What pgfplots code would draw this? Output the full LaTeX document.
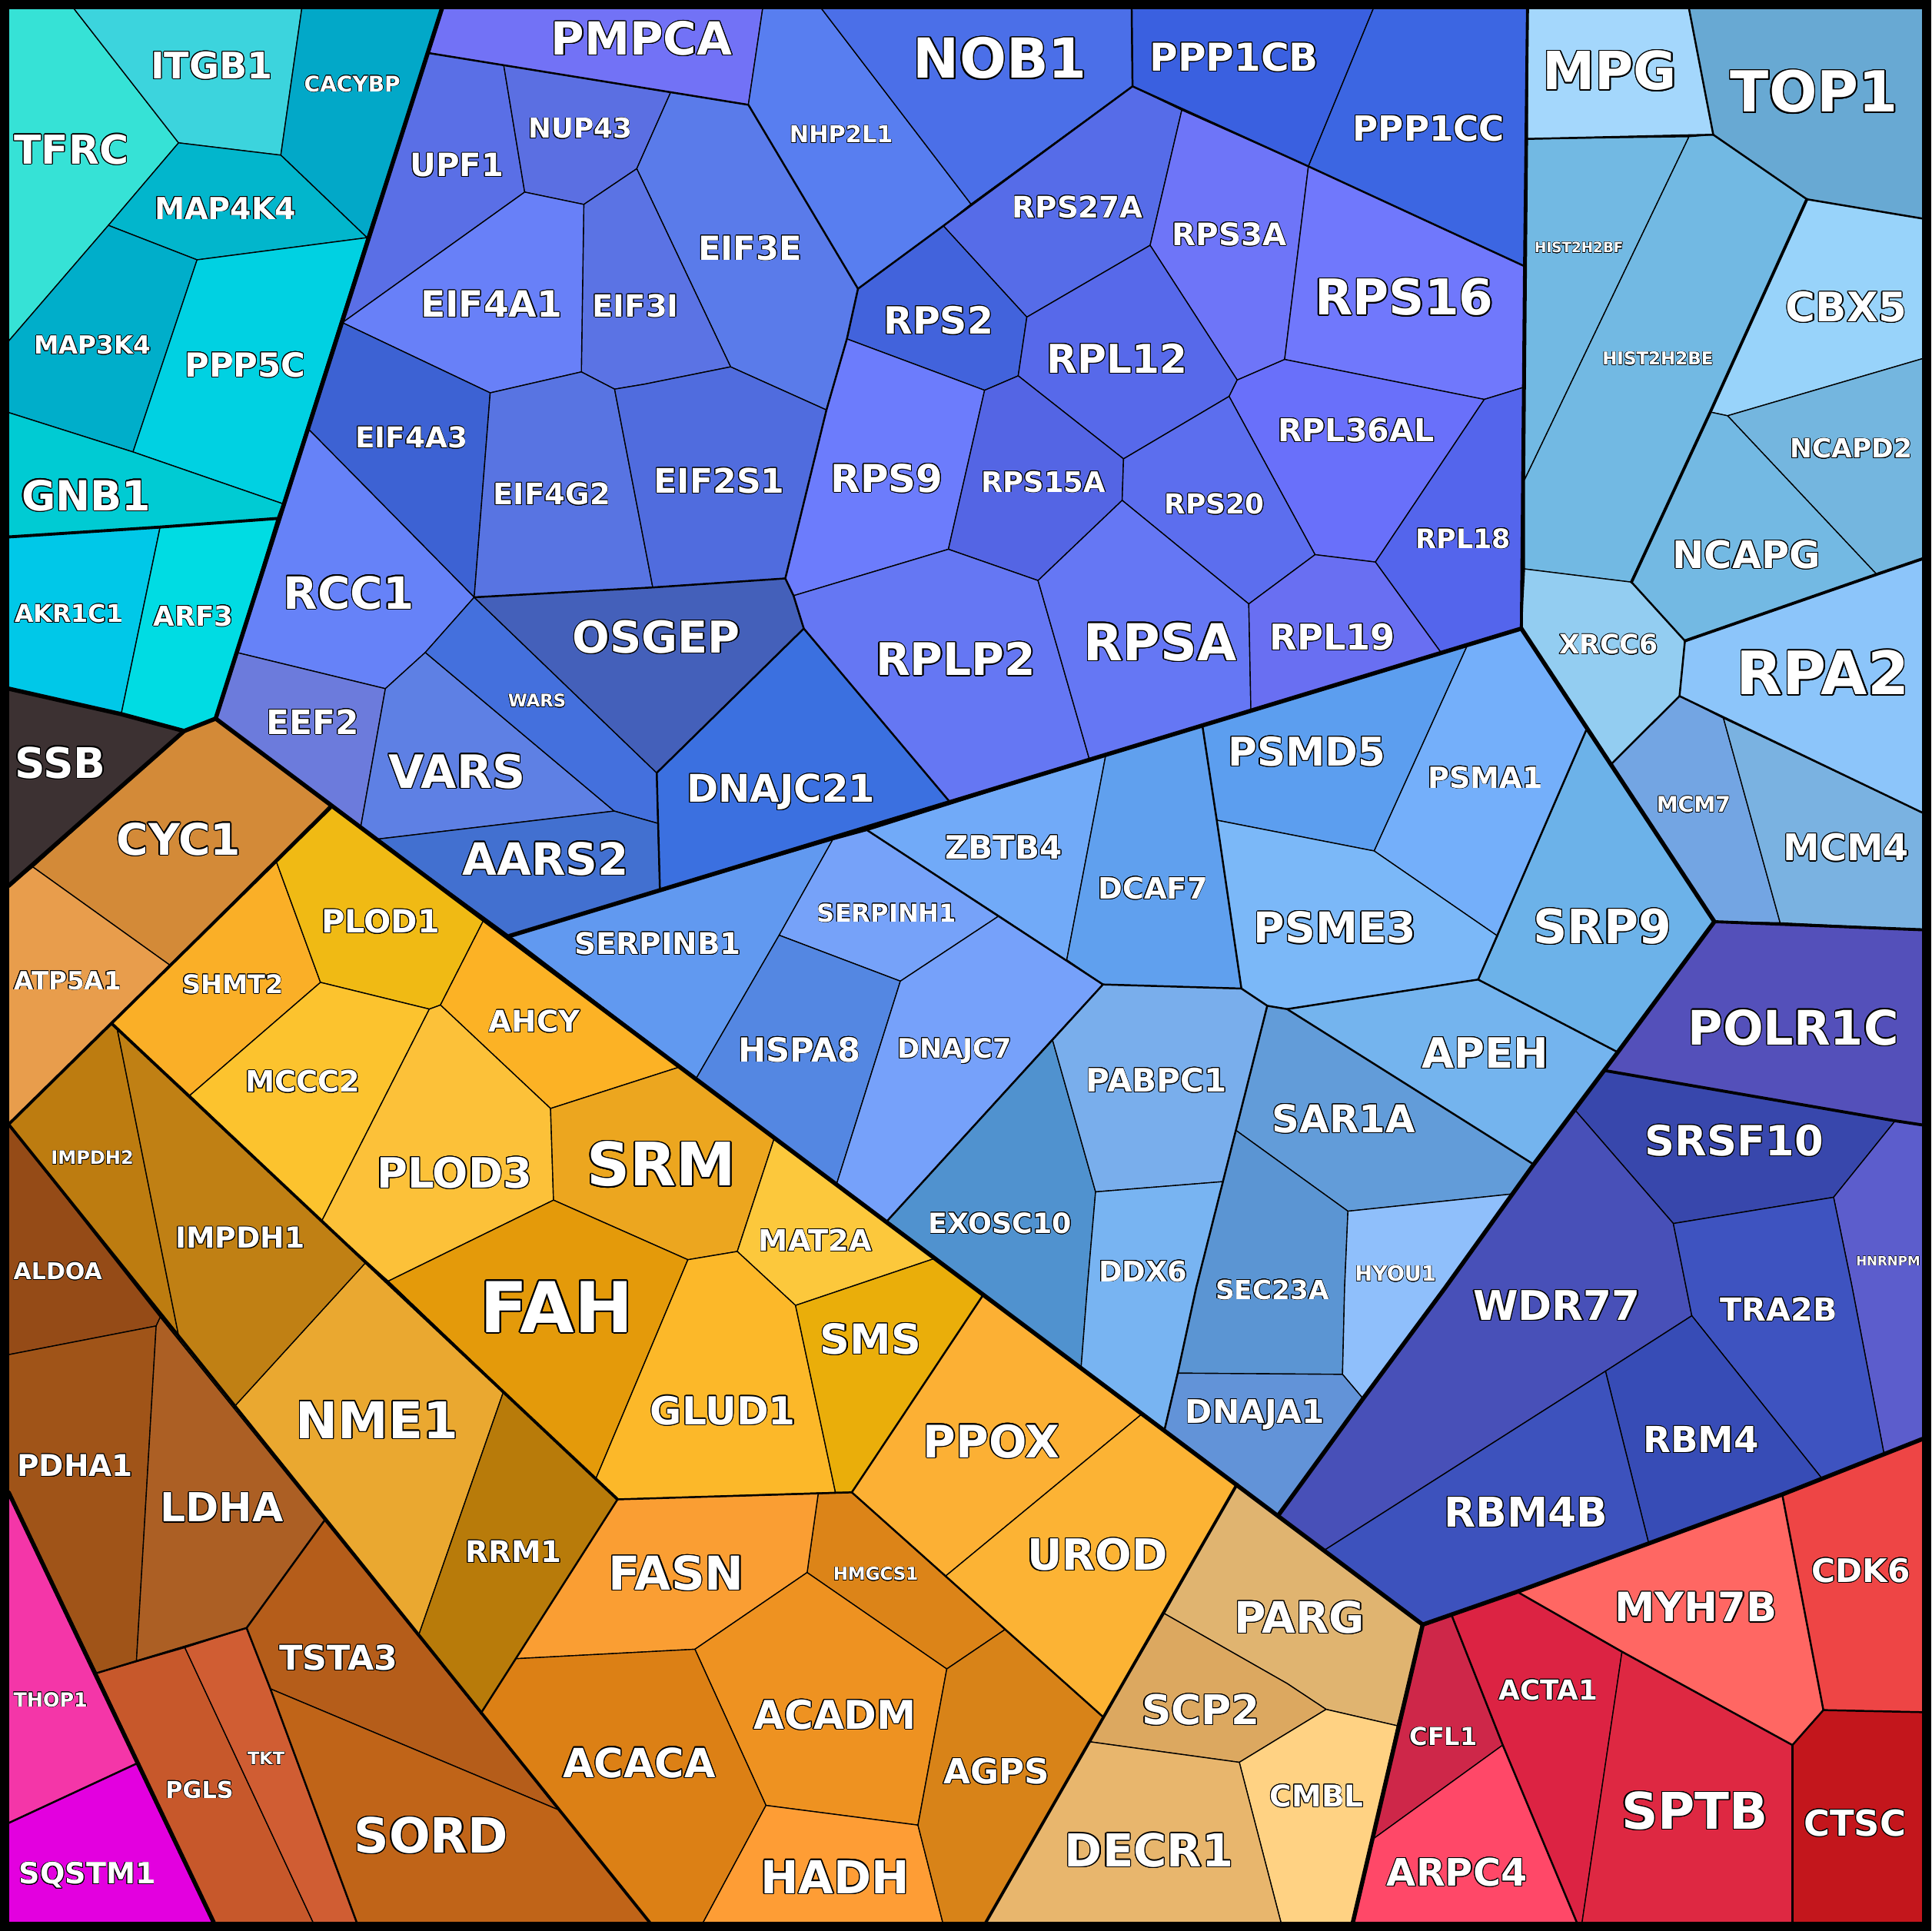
\documentclass[border=0pt]{standalone}
\usepackage{pgfplots}
\pgfplotsset{compat=1.18}
\usepackage{graphicx}
\usepackage{fontspec}
\setmainfont{DejaVu Sans}
\usepackage{contour}
\contourlength{0.22pt}
\newlength\ux \setlength\ux{0.0102041cm}
\newcommand\lbl[4]{\node[text depth=0pt,inner sep=0pt,text=white] at (axis cs:#1,#2) {\resizebox{#3\ux}{!}{\contour{black}{\bfseries #4}}};}
% colours
\definecolor{cTFRC}{HTML}{36E2D6}\definecolor{cITGB1}{HTML}{3CD4DD}\definecolor{cCACYBP}{HTML}{02A8C8}
\definecolor{cMAP4K4}{HTML}{02B6CC}\definecolor{cMAP3K4}{HTML}{00AECA}\definecolor{cPPP5C}{HTML}{00D1E2}
\definecolor{cGNB1}{HTML}{00CBD3}\definecolor{cAKR1C1}{HTML}{00C8E8}\definecolor{cARF3}{HTML}{00DCE3}
\definecolor{cSSB}{HTML}{3C3132}
\definecolor{cPMPCA}{HTML}{7272F6}\definecolor{cUPF1}{HTML}{5A6FE6}\definecolor{cNUP43}{HTML}{5B6FE2}
\definecolor{cEIF3E}{HTML}{5A7BEA}\definecolor{cEIF3I}{HTML}{5B73E4}\definecolor{cEIF4A1}{HTML}{6880F8}
\definecolor{cEIF4A3}{HTML}{3D62D3}\definecolor{cEIF4G2}{HTML}{5874E2}\definecolor{cEIF2S1}{HTML}{506CDE}
\definecolor{cRCC1}{HTML}{6682F8}\definecolor{cEEF2}{HTML}{6C7BDC}\definecolor{cVARS}{HTML}{5E80E4}
\definecolor{cWARS}{HTML}{4470DD}\definecolor{cAARS2}{HTML}{4270D0}\definecolor{cOSGEP}{HTML}{4460BA}
\definecolor{cDNAJC21}{HTML}{3B70E0}\definecolor{cNHP2L1}{HTML}{587EF0}\definecolor{cNOB1}{HTML}{4B6FE8}
\definecolor{cPPP1CB}{HTML}{3A60E0}\definecolor{cPPP1CC}{HTML}{3C66E2}\definecolor{cRPS27A}{HTML}{566CE8}
\definecolor{cRPS3A}{HTML}{6E75F8}\definecolor{cRPS16}{HTML}{7078FC}\definecolor{cRPS2}{HTML}{4263DC}
\definecolor{cRPL12}{HTML}{5769EA}\definecolor{cRPL36AL}{HTML}{6970FA}\definecolor{cRPS9}{HTML}{6C7CFC}
\definecolor{cRPS15A}{HTML}{5465E4}\definecolor{cRPS20}{HTML}{5C6EEE}\definecolor{cRPL18}{HTML}{5465EC}
\definecolor{cRPLP2}{HTML}{6577F3}\definecolor{cRPSA}{HTML}{6577F4}\definecolor{cRPL19}{HTML}{696FF2}
\definecolor{cSERPINB1}{HTML}{6199F0}\definecolor{cSERPINH1}{HTML}{76A2F9}\definecolor{cHSPA8}{HTML}{5487E2}
\definecolor{cDNAJC7}{HTML}{76A1FA}\definecolor{cZBTB4}{HTML}{71AAF8}\definecolor{cDCAF7}{HTML}{60A0EE}
\definecolor{cPSMD5}{HTML}{5C9EEF}\definecolor{cPSMA1}{HTML}{74AFFA}\definecolor{cPSME3}{HTML}{7BB8F8}
\definecolor{cSRP9}{HTML}{6CB2E9}\definecolor{cAPEH}{HTML}{74B4EE}\definecolor{cSAR1A}{HTML}{629CD9}
\definecolor{cEXOSC10}{HTML}{5092CF}\definecolor{cPABPC1}{HTML}{79AEEC}\definecolor{cDDX6}{HTML}{78B4F2}
\definecolor{cSEC23A}{HTML}{5B95D3}\definecolor{cHYOU1}{HTML}{8FBFFB}\definecolor{cDNAJA1}{HTML}{6293D8}
\definecolor{cMPG}{HTML}{A4D7FC}\definecolor{cTOP1}{HTML}{68A9D3}\definecolor{cHISTF}{HTML}{72B9E3}
\definecolor{cHISTE}{HTML}{72B9E3}\definecolor{cCBX5}{HTML}{98D3FA}\definecolor{cNCAPD2}{HTML}{74B6DF}
\definecolor{cNCAPG}{HTML}{73B9E3}\definecolor{cXRCC6}{HTML}{93CDF1}\definecolor{cRPA2}{HTML}{8CC5FA}
\definecolor{cMCM7}{HTML}{73A5E3}\definecolor{cMCM4}{HTML}{7AB2E1}
\definecolor{cPOLR1C}{HTML}{5450BA}\definecolor{cSRSF10}{HTML}{3847AC}\definecolor{cHNRNPM}{HTML}{5C5DCC}
\definecolor{cWDR77}{HTML}{4850B8}\definecolor{cTRA2B}{HTML}{3E53C0}\definecolor{cRBM4}{HTML}{374CB6}
\definecolor{cRBM4B}{HTML}{3D52BD}
\definecolor{cMYH7B}{HTML}{FF6763}\definecolor{cCDK6}{HTML}{EE4545}\definecolor{cCTSC}{HTML}{C3161C}
\definecolor{cSPTB}{HTML}{DE2842}\definecolor{cACTA1}{HTML}{DC2343}\definecolor{cCFL1}{HTML}{CE2749}
\definecolor{cARPC4}{HTML}{FF4868}
\definecolor{cCYC1}{HTML}{D38A38}\definecolor{cATP5A1}{HTML}{E89D4C}\definecolor{cSHMT2}{HTML}{FAAF27}
\definecolor{cPLOD1}{HTML}{F0BA14}\definecolor{cAHCY}{HTML}{FCB225}\definecolor{cMCCC2}{HTML}{FCC32E}
\definecolor{cPLOD3}{HTML}{FCC139}\definecolor{cSRM}{HTML}{ECA61F}\definecolor{cMAT2A}{HTML}{FCC83C}
\definecolor{cFAH}{HTML}{E49A0A}\definecolor{cGLUD1}{HTML}{FCB829}\definecolor{cSMS}{HTML}{EAAE0A}
\definecolor{cPPOX}{HTML}{FCB034}\definecolor{cUROD}{HTML}{FCB334}\definecolor{cFASN}{HTML}{FA9E33}
\definecolor{cHMGCS1}{HTML}{DC8418}\definecolor{cACADM}{HTML}{EE9221}\definecolor{cACACA}{HTML}{DC8015}
\definecolor{cHADH}{HTML}{FE9D35}\definecolor{cAGPS}{HTML}{D88318}\definecolor{cNME1}{HTML}{EAA830}
\definecolor{cRRM1}{HTML}{B87B0A}\definecolor{cIMPDH2}{HTML}{BD7C10}\definecolor{cIMPDH1}{HTML}{C08014}
\definecolor{cALDOA}{HTML}{954B17}\definecolor{cPDHA1}{HTML}{A05418}\definecolor{cLDHA}{HTML}{AC5F24}
\definecolor{cTSTA3}{HTML}{B55D1A}\definecolor{cPGLS}{HTML}{C7582B}\definecolor{cTKT}{HTML}{D05D33}
\definecolor{cSORD}{HTML}{C06418}\definecolor{cTHOP1}{HTML}{F436A8}\definecolor{cSQSTM1}{HTML}{E300DF}
\definecolor{cPARG}{HTML}{E0B470}\definecolor{cSCP2}{HTML}{DCA860}\definecolor{cDECR1}{HTML}{E8B66D}
\definecolor{cCMBL}{HTML}{FFD283}
\begin{document}
\begin{tikzpicture}
\begin{axis}[width=16cm,height=16cm,scale only axis,xmin=0,xmax=1568,ymin=0,ymax=1568,y dir=reverse,hide axis,
  cell/.style={draw=black,line width=0.25pt,line join=round},
  l1/.style={draw=black,line width=1.0pt,line join=round,line cap=round},
  l2/.style={draw=black,line width=0.7pt,line join=round,line cap=round},
  l3/.style={draw=black,line width=0.45pt,line join=round,line cap=round}]
\addplot[fill=black,draw=none] coordinates {(0,0)(1568,0)(1568,1568)(0,1568)} -- cycle;
% teal
\addplot[cell,fill=cTFRC] coordinates {(7,7)(60,7)(145,116)(88,183)(7,277)} -- cycle;
\addplot[cell,fill=cITGB1] coordinates {(60,7)(245,7)(228,126)(145,116)} -- cycle;
\addplot[cell,fill=cCACYBP] coordinates {(245,7)(359,7)(298,193)(228,126)} -- cycle;
\addplot[cell,fill=cMAP4K4] coordinates {(145,116)(228,126)(298,193)(160,211)(88,183)} -- cycle;
\addplot[cell,fill=cMAP3K4] coordinates {(7,277)(88,183)(160,211)(108,367)(7,335)} -- cycle;
\addplot[cell,fill=cPPP5C] coordinates {(160,211)(298,193)(229.5,409)(108,367)} -- cycle;
\addplot[cell,fill=cGNB1] coordinates {(7,335)(108,367)(229.5,409)(225,421)(130,428)(7,436)} -- cycle;
\addplot[cell,fill=cAKR1C1] coordinates {(7,436)(130,428)(98.4,579.9)(7,559.2)} -- cycle;
\addplot[cell,fill=cARF3] coordinates {(130,428)(225,421)(175.1,583.5)(149.5,593.6)(98.4,579.9)} -- cycle;
\addplot[cell,fill=cSSB] coordinates {(7,559.2)(98.4,579.9)(149.5,593.6)(7,719.3)} -- cycle;
% upper blue
\addplot[cell,fill=cPMPCA] coordinates {(359,7)(619.2,7)(607.6,85.1)(544.5,75)(409,53)(347.5,43)} -- cycle;
\addplot[cell,fill=cUPF1] coordinates {(347.5,43)(409,53)(426,156)(278,262)} -- cycle;
\addplot[cell,fill=cNUP43] coordinates {(409,53)(544.5,75)(517,137)(474,166)(426,156)} -- cycle;
\addplot[cell,fill=cEIF3E] coordinates {(544.5,75)(607.6,85.1)(696.6,234.5)(687.6,275.2)(671,332.9)(593.2,297.9)(517,137)} -- cycle;
\addplot[cell,fill=cEIF3I] coordinates {(474,166)(517,137)(593.2,297.9)(523,312)(499,316)(472,302)} -- cycle;
\addplot[cell,fill=cEIF4A1] coordinates {(278,262)(426,156)(474,166)(472,302)(398,319)} -- cycle;
\addplot[cell,fill=cEIF4A3] coordinates {(250,348)(278,262)(398,319)(385,485)} -- cycle;
\addplot[cell,fill=cEIF4G2] coordinates {(398,319)(472,302)(499,316)(530,477)(385,485)} -- cycle;
\addplot[cell,fill=cEIF2S1] coordinates {(499,316)(523,312)(593.2,297.9)(671,332.9)(637.6,469.7)(530,477)} -- cycle;
\addplot[cell,fill=cRCC1] coordinates {(250,348)(385,485)(345.3,529.8)(312.9,559.2)(192,529.8)} -- cycle;
\addplot[cell,fill=cEEF2] coordinates {(192,529.8)(312.9,559.2)(292.9,671.4)(268.5,653.5)(175.1,583.5)} -- cycle;
\addplot[cell,fill=cVARS] coordinates {(312.9,559.2)(345.3,529.8)(498.7,658.6)(306.2,681.4)(292.9,671.4)} -- cycle;
\addplot[cell,fill=cWARS] coordinates {(345.3,529.8)(385,485)(533.2,627.6)(534.2,668.6)(498.7,658.6)} -- cycle;
\addplot[cell,fill=cOSGEP] coordinates {(385,485)(530,477)(637.6,469.7)(644.3,483.7)(652.6,510.4)(533.2,627.6)} -- cycle;
\addplot[cell,fill=cAARS2] coordinates {(306.2,681.4)(498.7,658.6)(534.2,668.6)(535.8,722.7)(413.7,760)} -- cycle;
\addplot[cell,fill=cDNAJC21] coordinates {(533.2,627.6)(652.6,510.4)(771,651)(535.8,722.7)(534.2,668.6)} -- cycle;
\addplot[cell,fill=cNHP2L1] coordinates {(619.2,7)(667,7)(788.4,165.8)(766,183.5)(696.6,234.5)(607.6,85.1)} -- cycle;
\addplot[cell,fill=cNOB1] coordinates {(667,7)(918.8,7)(919.5,70.1)(788.4,165.8)} -- cycle;
\addplot[cell,fill=cPPP1CB] coordinates {(918.8,7)(1115,7)(1062.3,135.1)(919.5,70.1)} -- cycle;
\addplot[cell,fill=cPPP1CC] coordinates {(1115,7)(1240.2,7)(1237.8,216.2)(1062.3,135.1)} -- cycle;
\addplot[cell,fill=cRPS27A] coordinates {(766,183.5)(788.4,165.8)(919.5,70.1)(959.5,89.4)(933.8,199.2)(833.7,257.5)} -- cycle;
\addplot[cell,fill=cRPS3A] coordinates {(959.5,89.4)(1062.3,135.1)(1043,291.9)(1004.5,308.6)(933.8,199.2)} -- cycle;
\addplot[cell,fill=cRPS16] coordinates {(1062.3,135.1)(1237.8,216.2)(1237.8,314.3)(1205.1,324.3)(1043,291.9)} -- cycle;
\addplot[cell,fill=cRPS2] coordinates {(696.6,234.5)(766,183.5)(833.7,257.5)(826.7,305.2)(799.4,316.9)(687.6,275.2)} -- cycle;
\addplot[cell,fill=cRPL12] coordinates {(833.7,257.5)(933.8,199.2)(1004.5,308.6)(997.9,321.9)(912.2,372.6)(826.7,305.2)} -- cycle;
\addplot[cell,fill=cRPL36AL] coordinates {(997.9,321.9)(1004.5,308.6)(1043,291.9)(1205.1,324.3)(1116.7,456.4)(1067.7,450.4)} -- cycle;
\addplot[cell,fill=cRPS9] coordinates {(687.6,275.2)(799.4,316.9)(770,446)(644.3,483.7)(637.6,469.7)(671,332.9)} -- cycle;
\addplot[cell,fill=cRPS15A] coordinates {(799.4,316.9)(826.7,305.2)(912.2,372.6)(911.1,406.3)(842.8,471.4)(770,446)} -- cycle;
\addplot[cell,fill=cRPS20] coordinates {(912.2,372.6)(997.9,321.9)(1067.7,450.4)(1013.9,490.4)(911.1,406.3)} -- cycle;
\addplot[cell,fill=cRPL18] coordinates {(1205.1,324.3)(1237.8,314.3)(1235.2,510.4)(1170.2,530.2)(1116.7,456.4)} -- cycle;
\addplot[cell,fill=cRPLP2] coordinates {(644.3,483.7)(770,446)(842.8,471.4)(884.5,616.6)(771,651)(652.6,510.4)} -- cycle;
\addplot[cell,fill=cRPSA] coordinates {(842.8,471.4)(911.1,406.3)(1013.9,490.4)(1015.6,576.9)(884.5,616.6)} -- cycle;
\addplot[cell,fill=cRPL19] coordinates {(1013.9,490.4)(1067.7,450.4)(1116.7,456.4)(1170.2,530.2)(1015.6,576.9)} -- cycle;
% mid light blue
\addplot[cell,fill=cSERPINB1] coordinates {(413.7,760)(676,682)(632.6,759.4)(565.2,875.7)} -- cycle;
\addplot[cell,fill=cSERPINH1] coordinates {(676,682)(704.3,674.3)(811.1,743.7)(731,796.7)(632.6,759.4)} -- cycle;
\addplot[cell,fill=cHSPA8] coordinates {(632.6,759.4)(731,796.7)(679.3,961.2)(565.2,875.7)} -- cycle;
\addplot[cell,fill=cDNAJC7] coordinates {(731,796.7)(811.1,743.7)(895.5,799.4)(720,991.75)(679.3,961.2)} -- cycle;
\addplot[cell,fill=cZBTB4] coordinates {(704.3,674.3)(897.8,613)(866.1,779.4)(895.5,799.4)(811.1,743.7)} -- cycle;
\addplot[cell,fill=cDCAF7] coordinates {(897.8,613)(976.2,589)(987.9,666)(1007.9,802.7)(895.5,799.4)(866.1,779.4)} -- cycle;
\addplot[cell,fill=cPSMD5] coordinates {(976.2,589)(1191.8,523.1)(1115.7,691)(987.9,666)} -- cycle;
\addplot[cell,fill=cPSMA1] coordinates {(1191.8,523.1)(1235.2,510.4)(1288.5,591.4)(1215.8,760)(1115.7,691)} -- cycle;
\addplot[cell,fill=cSRP9] coordinates {(1288.5,591.4)(1391.9,748.4)(1313.5,854.4)(1200.1,795.4)(1215.8,760)} -- cycle;
\addplot[cell,fill=cPSME3] coordinates {(987.9,666)(1115.7,691)(1215.8,760)(1200.1,795.4)(1045,819.4)(1028.9,816.7)(1007.9,802.7)} -- cycle;
\addplot[cell,fill=cAPEH] coordinates {(1045,819.4)(1200.1,795.4)(1313.5,854.4)(1245.2,945.5)} -- cycle;
\addplot[cell,fill=cSAR1A] coordinates {(1028.9,816.7)(1045,819.4)(1245.2,945.5)(1228,969.5)(1094.4,983.5)(1003.4,917.8)} -- cycle;
\addplot[cell,fill=cEXOSC10] coordinates {(720,991.75)(854.4,843.9)(889.5,967.8)(882.8,1045.6)(877.8,1110)} -- cycle;
\addplot[cell,fill=cPABPC1] coordinates {(895.5,799.4)(1007.9,802.7)(1028.9,816.7)(992.9,959.5)(889.5,967.8)(854.4,843.9)} -- cycle;
\addplot[cell,fill=cDDX6] coordinates {(889.5,967.8)(992.9,959.5)(971.2,1045.6)(956.2,1115)(945.5,1160.9)(877.8,1110)(882.8,1045.6)} -- cycle;
\addplot[cell,fill=cSEC23A] coordinates {(1003.4,917.8)(1094.4,983.5)(1091.7,1045.6)(1090,1116)(956.2,1115)(971.2,1045.6)(992.9,959.5)} -- cycle;
\addplot[cell,fill=cHYOU1] coordinates {(1094.4,983.5)(1228,969.5)(1173.4,1045.6)(1106.7,1135.7)(1090,1116)(1091.7,1045.6)} -- cycle;
\addplot[cell,fill=cDNAJA1] coordinates {(956.2,1115)(1090,1116)(1106.7,1135.7)(1038,1230.25)(945.5,1160.9)} -- cycle;
% right light blue
\addplot[cell,fill=cMPG] coordinates {(1240.2,7)(1371.3,7)(1391,109.4)(1240.2,112.8)} -- cycle;
\addplot[cell,fill=cTOP1] coordinates {(1371.3,7)(1561,7)(1561,177.5)(1467,161.8)(1391,109.4)} -- cycle;
\addplot[cell,fill=cHISTF] coordinates {(1240.2,112.8)(1371.3,111)(1237.8,389.6)} -- cycle;
\addplot[cell,fill=cHISTE] coordinates {(1371.3,111)(1391,109.4)(1467,161.8)(1388.6,334.6)(1324.6,472.7)(1237.8,462)(1237.8,389.6)} -- cycle;
\addplot[cell,fill=cCBX5] coordinates {(1467,161.8)(1561,177.5)(1561,291.2)(1402.6,337.6)(1388.6,334.6)} -- cycle;
\addplot[cell,fill=cNCAPD2] coordinates {(1402.6,337.6)(1561,291.2)(1561,453.7)(1523.7,466.4)} -- cycle;
\addplot[cell,fill=cNCAPG] coordinates {(1388.6,334.6)(1402.6,337.6)(1523.7,466.4)(1368,520.4)(1324.6,472.7)} -- cycle;
\addplot[cell,fill=cXRCC6] coordinates {(1237.8,462)(1324.6,472.7)(1368,520.4)(1363.6,565.2)(1307.9,620.8)(1235.2,510.4)} -- cycle;
\addplot[cell,fill=cRPA2] coordinates {(1368,520.4)(1523.7,466.4)(1561,453.7)(1561,660)(1399.3,583.2)(1363.6,565.2)} -- cycle;
\addplot[cell,fill=cMCM7] coordinates {(1363.6,565.2)(1399.3,583.2)(1445.3,749.3)(1391.9,748.4)(1307.9,620.8)} -- cycle;
\addplot[cell,fill=cMCM4] coordinates {(1399.3,583.2)(1561,660)(1561,755)(1445.3,749.3)} -- cycle;
% dark blue
\addplot[cell,fill=cPOLR1C] coordinates {(1391.9,748.4)(1561,755)(1561,913.5)(1538.7,910.1)(1303.5,869.4)(1313.5,854.4)} -- cycle;
\addplot[cell,fill=cSRSF10] coordinates {(1303.5,869.4)(1538.7,910.1)(1488.7,972.2)(1358.6,993.5)(1278.5,901.1)} -- cycle;
\addplot[cell,fill=cHNRNPM] coordinates {(1538.7,910.1)(1561,913.5)(1561,1168.4)(1529.7,1180.8)(1503.7,1045)(1488.7,972.2)} -- cycle;
\addplot[cell,fill=cWDR77] coordinates {(1278.5,901.1)(1358.6,993.5)(1373.6,1068.4)(1303.5,1113.4)(1075.7,1258.5)(1038,1230.25)(1106.7,1135.7)(1173.4,1045.6)(1245.2,945.5)} -- cycle;
\addplot[cell,fill=cTRA2B] coordinates {(1358.6,993.5)(1488.7,972.2)(1503.7,1045)(1529.7,1180.8)(1479.4,1200.7)(1373.6,1068.4)} -- cycle;
\addplot[cell,fill=cRBM4] coordinates {(1373.6,1068.4)(1479.4,1200.7)(1447,1213.5)(1338.6,1253.3)(1303.5,1113.4)} -- cycle;
\addplot[cell,fill=cRBM4B] coordinates {(1075.7,1258.5)(1303.5,1113.4)(1338.6,1253.3)(1231.8,1292.5)(1155.1,1319.2)} -- cycle;
% red
\addplot[cell,fill=cCFL1] coordinates {(1155.1,1319.2)(1178.4,1311.1)(1220.1,1417)(1114.2,1493.7)} -- cycle;
\addplot[cell,fill=cARPC4] coordinates {(1114.2,1493.7)(1220.1,1417)(1280.2,1561)(1098.4,1561)} -- cycle;
\addplot[cell,fill=cACTA1] coordinates {(1178.4,1311.1)(1231.8,1292.5)(1316.9,1341.2)(1284.5,1561)(1280.2,1561)(1220.1,1417)} -- cycle;
\addplot[cell,fill=cSPTB] coordinates {(1316.9,1341.2)(1455.3,1417)(1455.3,1561)(1284.5,1561)} -- cycle;
\addplot[cell,fill=cMYH7B] coordinates {(1231.8,1292.5)(1447,1213.5)(1480.4,1388.6)(1455.3,1417)(1316.9,1341.2)} -- cycle;
\addplot[cell,fill=cCDK6] coordinates {(1447,1213.5)(1561,1168.4)(1561,1390.3)(1480.4,1388.6)} -- cycle;
\addplot[cell,fill=cCTSC] coordinates {(1480.4,1388.6)(1561,1390.3)(1561,1561)(1455.3,1561)(1455.3,1417)} -- cycle;
% orange / brown
\addplot[cell,fill=cCYC1] coordinates {(149.5,593.6)(175.1,583.5)(268.5,653.5)(137.8,783.6)(26.7,704)} -- cycle;
\addplot[cell,fill=cATP5A1] coordinates {(7,719.3)(26.7,704)(137.8,783.6)(7,913)} -- cycle;
\addplot[cell,fill=cSHMT2] coordinates {(224.2,699.2)(260.2,797.7)(154.1,889.5)(90.7,831.1)} -- cycle;
\addplot[cell,fill=cPLOD1] coordinates {(268.5,653.5)(393,746.5)(357.6,816.1)(348.6,819.4)(260.2,797.7)(224.2,699.2)} -- cycle;
\addplot[cell,fill=cAHCY] coordinates {(393,746.5)(553,866)(447,900.1)(357.6,816.1)} -- cycle;
\addplot[cell,fill=cMCCC2] coordinates {(154.1,889.5)(260.2,797.7)(348.6,819.4)(261.2,991.5)} -- cycle;
\addplot[cell,fill=cPLOD3] coordinates {(261.2,991.5)(348.6,819.4)(357.6,816.1)(447,900.1)(449.4,974.5)(315.2,1040.3)} -- cycle;
\addplot[cell,fill=cSRM] coordinates {(447,900.1)(553,866)(629,923.2)(598.6,1016.2)(558.5,1022.9)(449.4,974.5)} -- cycle;
\addplot[cell,fill=cMAT2A] coordinates {(629,923.2)(760,1021.5)(645.9,1060)(598.6,1016.2)} -- cycle;
\addplot[cell,fill=cFAH] coordinates {(315.2,1040.3)(449.4,974.5)(558.5,1022.9)(483.7,1200.9)} -- cycle;
\addplot[cell,fill=cGLUD1] coordinates {(558.5,1022.9)(598.6,1016.2)(645.9,1060)(678.3,1211.8)(501.4,1217.5)(483.7,1200.9)} -- cycle;
\addplot[cell,fill=cSMS] coordinates {(645.9,1060)(760,1021.5)(798.7,1050.8)(691.6,1211.8)(678.3,1211.8)} -- cycle;
\addplot[cell,fill=cPPOX] coordinates {(798.7,1050.8)(927.8,1147.6)(767.7,1279.8)(691.6,1211.8)} -- cycle;
\addplot[cell,fill=cUROD] coordinates {(927.8,1147.6)(1004.5,1205)(896.1,1394.6)(767.7,1279.8)} -- cycle;
\addplot[cell,fill=cHMGCS1] coordinates {(664.3,1212.8)(691.6,1211.8)(816.1,1323.1)(768.7,1355.2)(655.3,1276.9)} -- cycle;
\addplot[cell,fill=cFASN] coordinates {(501.4,1217.5)(664.3,1212.8)(655.3,1276.9)(564.2,1339.2)(418.2,1346.9)} -- cycle;
\addplot[cell,fill=cACADM] coordinates {(655.3,1276.9)(768.7,1355.2)(745.3,1482)(621.9,1466)(564.2,1339.2)} -- cycle;
\addplot[cell,fill=cACACA] coordinates {(418.2,1346.9)(564.2,1339.2)(621.9,1466)(570.9,1561)(527.5,1561)(390.3,1391.4)} -- cycle;
\addplot[cell,fill=cHADH] coordinates {(621.9,1466)(745.3,1482)(765.4,1561)(570.9,1561)} -- cycle;
\addplot[cell,fill=cAGPS] coordinates {(768.7,1355.2)(816.1,1323.1)(896.1,1394.6)(800.4,1561)(765.4,1561)(745.3,1482)} -- cycle;
\addplot[cell,fill=cNME1] coordinates {(296.9,1025.2)(315.2,1040.3)(408.7,1130.3)(339.6,1328.7)(189.5,1143)} -- cycle;
\addplot[cell,fill=cRRM1] coordinates {(408.7,1130.3)(501.4,1217.5)(390.3,1391.4)(339.6,1328.7)} -- cycle;
\addplot[cell,fill=cIMPDH2] coordinates {(7,913)(90.7,831.1)(95.1,835.2)(145.8,1088.5)} -- cycle;
\addplot[cell,fill=cIMPDH1] coordinates {(95.1,835.2)(296.9,1025.2)(189.5,1143)(145.8,1088.5)} -- cycle;
\addplot[cell,fill=cALDOA] coordinates {(7,913)(130.1,1069.6)(126.8,1076.7)(7,1100)} -- cycle;
\addplot[cell,fill=cPDHA1] coordinates {(7,1100)(126.8,1076.7)(110.8,1348.6)(78.4,1358.6)(7,1211.8)} -- cycle;
\addplot[cell,fill=cLDHA] coordinates {(126.8,1076.7)(130.1,1069.6)(263.5,1234.6)(200.2,1321.9)(110.8,1348.6)} -- cycle;
\addplot[cell,fill=cTHOP1] coordinates {(7,1211.8)(78.4,1358.6)(111,1432)(7,1480.3)} -- cycle;
\addplot[cell,fill=cSQSTM1] coordinates {(7,1480.3)(111,1432)(173.5,1561)(7,1561)} -- cycle;
\addplot[cell,fill=cPGLS] coordinates {(78.4,1358.6)(150.1,1337.9)(254.2,1561)(173.5,1561)} -- cycle;
\addplot[cell,fill=cTKT] coordinates {(150.1,1337.9)(200.2,1321.9)(219.5,1371.3)(289.6,1561)(254.2,1561)} -- cycle;
\addplot[cell,fill=cTSTA3] coordinates {(200.2,1321.9)(263.5,1234.6)(453.7,1469.7)(219.5,1371.3)} -- cycle;
\addplot[cell,fill=cSORD] coordinates {(219.5,1371.3)(453.7,1469.7)(527.5,1561)(289.6,1561)} -- cycle;
\addplot[cell,fill=cPARG] coordinates {(1004.5,1205)(1155.1,1319.2)(1134.4,1401.3)(1076.7,1388)(1045,1367)(945.3,1310.2)} -- cycle;
\addplot[cell,fill=cSCP2] coordinates {(945.3,1310.2)(1045,1367)(1076.7,1388)(1006.2,1431)(884.6,1414.3)} -- cycle;
\addplot[cell,fill=cCMBL] coordinates {(1076.7,1388)(1134.4,1401.3)(1098.4,1561)(1040,1561)(1006.2,1431)} -- cycle;
\addplot[cell,fill=cDECR1] coordinates {(884.6,1414.3)(1006.2,1431)(1040,1561)(800.4,1561)} -- cycle;
% level-3 boundaries
\addplot[l3] coordinates {(347.5,43)(607.6,85.1)(696.6,234.5)(919.5,70.1)(918.8,7)};
\addplot[l3] coordinates {(919.5,70.1)(1062.3,135.1)(1237.8,216.2)};
\addplot[l3] coordinates {(696.6,234.5)(687.6,275.2)(671,332.9)(637.6,469.7)(644.3,483.7)(652.6,510.4)};
\addplot[l3] coordinates {(385,485)(530,477)(637.6,469.7)};
\addplot[l3] coordinates {(771,651)(652.6,510.4)(533.2,627.6)(535.8,722.7)};
\addplot[l3] coordinates {(704.3,674.3)(895.5,799.4)(720,991.75)};
\addplot[l3] coordinates {(895.5,799.4)(1007.9,802.7)(1028.9,816.7)(1045,819.4)(1200.1,795.4)(1288.5,591.4)};
\addplot[l3] coordinates {(976.2,589)(987.9,666)(1007.9,802.7)};
\addplot[l3] coordinates {(1200.1,795.4)(1313.5,854.4)};
\addplot[l3] coordinates {(1045,819.4)(1245.2,945.5)};
\addplot[l3] coordinates {(1028.9,816.7)(992.9,959.5)(971.2,1045.6)(956.2,1115)(945.5,1160.9)};
\addplot[l3] coordinates {(1240.2,112.8)(1391,109.4)(1371.3,7)};
\addplot[l3] coordinates {(1391,109.4)(1467,161.8)(1561,177.5)};
\addplot[l3] coordinates {(1324.6,472.7)(1368,520.4)(1363.6,565.2)(1307.9,620.8)};
\addplot[l3] coordinates {(1363.6,565.2)(1561,660)};
\addplot[l3] coordinates {(1231.8,1292.5)(1316.9,1341.2)(1455.3,1417)(1480.4,1388.6)(1447,1213.5)};
\addplot[l3] coordinates {(1480.4,1388.6)(1561,1390.3)};
\addplot[l3] coordinates {(1455.3,1417)(1455.3,1561)};
\addplot[l3] coordinates {(1178.4,1311.1)(1220.1,1417)(1280.2,1561)};
\addplot[l3] coordinates {(78.4,1358.6)(200.2,1321.9)(263.5,1234.6)};
\addplot[l3] coordinates {(200.2,1321.9)(219.5,1371.3)(289.6,1561)};
\addplot[l3] coordinates {(7,1480.3)(111,1432)};
\addplot[l3] coordinates {(501.4,1217.5)(390.3,1391.4)};
\addplot[l3] coordinates {(501.4,1217.5)(691.6,1211.8)(798.7,1050.8)};
\addplot[l3] coordinates {(691.6,1211.8)(896.1,1394.6)};
% level-2 boundaries
\addplot[l2] coordinates {(268.5,655.9)(7,913)};
\addplot[l2] coordinates {(7,913)(527.5,1561)};
\addplot[l2] coordinates {(1240.2,7)(1237.8,216.2)(1235.2,510.4)};
\addplot[l2] coordinates {(1391.9,748.4)(1561,755)};
\addplot[l2] coordinates {(1004.5,1205)(800.4,1561)};
\addplot[l2] coordinates {(90.7,831.1)(501.4,1217.5)};
\addplot[l2] coordinates {(1303.5,869.4)(1538.7,910.1)(1561,913.5)};
\addplot[l2] coordinates {(1467,161.8)(1388.6,334.6)(1324.6,472.7)};
\addplot[l2] coordinates {(1368,520.4)(1523.7,466.4)(1561,453.7)};
\addplot[l2] coordinates {(7,436)(130,428)(225,421)};
% level-1 boundaries
\addplot[l1] coordinates {(361,0)(175.1,583.5)};
\addplot[l1] coordinates {(7,559.2)(98.4,579.9)(149.5,593.6)(175.1,583.5)};
\addplot[l1] coordinates {(149.5,593.6)(7,719.3)};
\addplot[l1] coordinates {(175.1,583.5)(1155.1,1319.2)};
\addplot[l1] coordinates {(413.7,760)(1235.2,510.4)};
\addplot[l1] coordinates {(1235.2,510.4)(1391.9,748.4)(1313.5,854.4)(1245.2,945.5)(1173.4,1045.6)(1106.7,1135.7)(1038,1230.25)};
\addplot[l1] coordinates {(1098.4,1561)(1155.1,1319.2)(1231.8,1292.5)(1447,1213.5)(1561,1168.4)};
\addplot[l1] coordinates {(7,1211.8)(173.5,1561)};
% frame
\addplot[draw=black,line width=2.1pt] coordinates {(3.5,3.5)(1564.5,3.5)(1564.5,1564.5)(3.5,1564.5)} -- cycle;
% labels
\lbl{58}{121}{93}{TFRC}\lbl{172}{53}{99}{ITGB1}\lbl{286}{68}{78}{CACYBP}
\lbl{183}{169}{115}{MAP4K4}\lbl{75}{280}{95}{MAP3K4}\lbl{199}{296}{98}{PPP5C}
\lbl{70}{402}{105}{GNB1}\lbl{56}{498}{88}{AKR1C1}\lbl{157}{500}{65}{ARF3}\lbl{49}{619}{74}{SSB}
\lbl{521}{31}{147}{PMPCA}\lbl{812}{47}{141}{NOB1}\lbl{1002}{46}{137}{PPP1CB}\lbl{1160}{104}{123}{PPP1CC}
\lbl{371}{134}{76}{UPF1}\lbl{471}{104}{84}{NUP43}\lbl{683}{109}{84}{NHP2L1}\lbl{875}{168}{106}{RPS27A}
\lbl{998}{190}{93}{RPS3A}\lbl{609}{201}{84}{EIF3E}\lbl{1140}{241}{145}{RPS16}\lbl{399}{247}{115}{EIF4A1}
\lbl{516}{248}{70}{EIF3I}\lbl{762}{260}{89}{RPS2}\lbl{907}{291}{114}{RPL12}\lbl{334}{355}{91}{EIF4A3}
\lbl{1101}{349}{127}{RPL36AL}\lbl{448}{401}{95}{EIF4G2}\lbl{584}{390}{106}{EIF2S1}\lbl{720}{388}{91}{RPS9}
\lbl{847}{391}{101}{RPS15A}\lbl{986}{409}{81}{RPS20}\lbl{1188}{437}{77}{RPL18}\lbl{283}{481}{106}{RCC1}
\lbl{533}{517}{136}{OSGEP}\lbl{776}{535}{130}{RPLP2}\lbl{942}{521}{124}{RPSA}\lbl{1082}{517}{102}{RPL19}
\lbl{254}{586}{75}{EEF2}\lbl{436}{569}{47}{WARS}\lbl{371}{626}{111}{VARS}\lbl{634}{640}{153}{DNAJC21}
\lbl{443}{697}{135}{AARS2}
\lbl{1061}{610}{128}{PSMD5}\lbl{1206}{631}{93}{PSMA1}\lbl{815}{688}{95}{ZBTB4}\lbl{936}{721}{89}{DCAF7}
\lbl{720}{741}{113}{SERPINH1}\lbl{534}{766}{135}{SERPINB1}\lbl{1084}{753}{132}{PSME3}\lbl{1301}{752}{112}{SRP9}
\lbl{649}{852}{99}{HSPA8}\lbl{775}{851}{93}{DNAJC7}\lbl{939}{877}{114}{PABPC1}\lbl{1206}{855}{103}{APEH}
\lbl{1091}{908}{116}{SAR1A}\lbl{812}{993}{116}{EXOSC10}\lbl{928}{1032}{72}{DDX6}\lbl{1033}{1047}{92}{SEC23A}
\lbl{1133}{1034}{66}{HYOU1}\lbl{1019}{1146}{113}{DNAJA1}
\lbl{1307}{57}{109}{MPG}\lbl{1473}{74}{136}{TOP1}\lbl{1282}{201}{72}{HIST2H2BF}\lbl{1499}{249}{98}{CBX5}
\lbl{1346}{291}{90}{HIST2H2BE}\lbl{1503}{364}{99}{NCAPD2}\lbl{1418}{450}{120}{NCAPG}\lbl{1306}{523}{80}{XRCC6}
\lbl{1480}{546}{140}{RPA2}\lbl{1375}{653}{60}{MCM7}\lbl{1499}{688}{102}{MCM4}
\lbl{1456}{834}{171}{POLR1C}\lbl{1408}{926}{145}{SRSF10}\lbl{1533}{1024}{52}{HNRNPM}\lbl{1264}{1060}{136}{WDR77}
\lbl{1444}{1063}{95}{TRA2B}\lbl{1381}{1169}{94}{RBM4}\lbl{1239}{1228}{133}{RBM4B}
\lbl{1511}{1275}{80}{CDK6}\lbl{1377}{1305}{132}{MYH7B}\lbl{1257}{1372}{80}{ACTA1}\lbl{1172}{1410}{55}{CFL1}
\lbl{1376}{1470}{119}{SPTB}\lbl{1506}{1480}{83}{CTSC}\lbl{1183}{1520}{114}{ARPC4}
\lbl{145}{681}{101}{CYC1}\lbl{55}{796}{87}{ATP5A1}\lbl{309}{748}{96}{PLOD1}\lbl{189}{799}{82}{SHMT2}
\lbl{434}{829}{74}{AHCY}\lbl{246}{878}{93}{MCCC2}\lbl{75}{940}{67}{IMPDH2}\lbl{537}{945}{121}{SRM}
\lbl{369}{952}{126}{PLOD3}\lbl{195}{1005}{105}{IMPDH1}\lbl{662}{1007}{92}{MAT2A}\lbl{47}{1032}{72}{ALDOA}
\lbl{452}{1061}{124}{FAH}\lbl{707}{1087}{82}{SMS}\lbl{306}{1153}{132}{NME1}\lbl{587}{1145}{118}{GLUD1}
\lbl{805}{1170}{111}{PPOX}\lbl{61}{1190}{94}{PDHA1}\lbl{180}{1224}{100}{LDHA}\lbl{891}{1262}{114}{UROD}
\lbl{417}{1260}{78}{RRM1}\lbl{549}{1277}{110}{FASN}\lbl{711}{1278}{69}{HMGCS1}\lbl{1055}{1313}{106}{PARG}
\lbl{275}{1346}{96}{TSTA3}\lbl{41}{1380}{60}{THOP1}\lbl{975}{1388}{96}{SCP2}\lbl{678}{1392}{132}{ACADM}
\lbl{1069}{1458}{76}{CMBL}\lbl{216}{1428}{30}{TKT}\lbl{809}{1438}{86}{AGPS}\lbl{519}{1431}{124}{ACACA}
\lbl{162}{1453}{55}{PGLS}\lbl{350}{1490}{125}{SORD}\lbl{933}{1502}{137}{DECR1}\lbl{71}{1521}{111}{SQSTM1}
\lbl{678}{1524}{121}{HADH}
\end{axis}
\end{tikzpicture}
\end{document}
